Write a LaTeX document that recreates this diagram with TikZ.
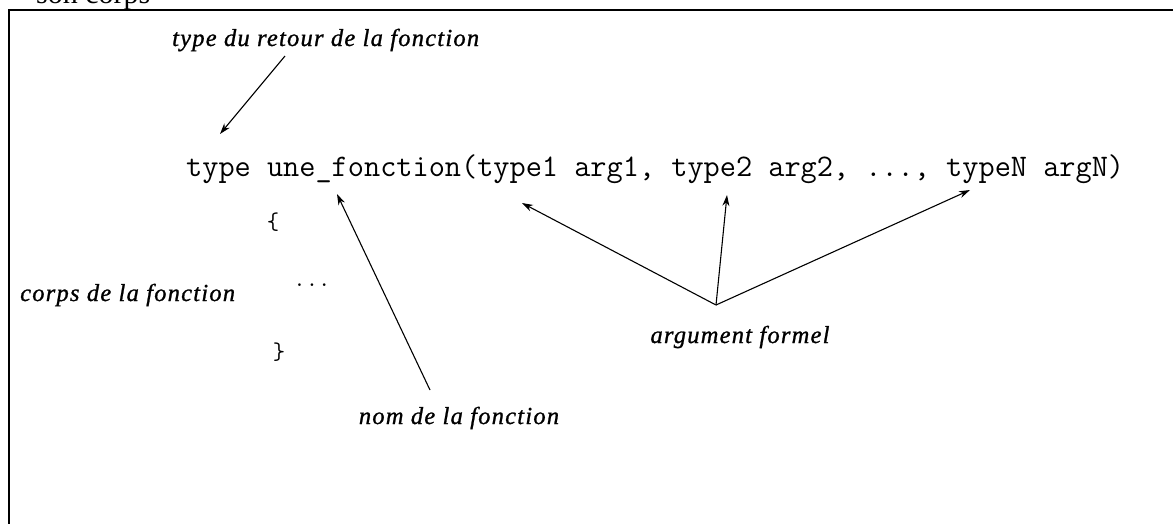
\documentclass[tikz,border=0pt]{standalone}
\usepackage{fontspec}
\setmainfont{Liberation Serif}
\newfontfamily\labfont{Liberation Serif}[LetterSpace=5,FakeBold=1]
\usetikzlibrary{arrows.meta}
\begin{document}
\begin{tikzpicture}[x=1pt,y=-1pt,
  lab/.style={font=\labfont\fontsize{24.5}{28}\selectfont\itshape, inner sep=0pt},
  code/.style={font=\ttfamily\fontsize{31.4}{34}\selectfont, inner sep=0pt},
  small code/.style={font=\ttfamily\fontsize{24}{28}\selectfont, inner sep=0pt},
  arr/.style={-{Stealth[length=11pt,width=7pt]}, line width=1.1pt},
  frame/.style={line width=2.5pt}]
\useasboundingbox (0,0) rectangle (1173,523);
\clip (0,0) rectangle (1173,523);
% clipped caption above the frame
\node[font=\fontsize{30}{34}\selectfont, anchor=base west, inner sep=0pt] (sc) at (36,3) {son corps};
% frame
\coordinate (fbl) at (9,540);
\coordinate (ftl) at (9,10);
\coordinate (ftr) at (1190,10);
\draw[frame] (fbl) -- (ftl) -- (ftr);
% labels
\node[lab, anchor=base west] (ret) at (172,46) {type du retour de la fonction};
\node[code, anchor=base west] (sig) at (186,176) {type une\_fonction(type1 arg1, type2 arg2, ..., typeN argN)};
\node[small code] (ob) at (273,222) {\{};
\node[small code] (dots) at (312,285) {...};
\node[small code] (cb) at (279,352) {\}};
\node[lab, anchor=west] (corps) at (20,295) {corps de la fonction};
\node[lab] (nom) at (459,418) {nom de la fonction};
\node[lab] (arg) at (740,337) {argument formel};
% connector ends
\coordinate (r0) at (285,56);
\coordinate (r1) at (220,134);
\coordinate (n0) at (430,390);
\coordinate (n1) at (337,194);
\coordinate (conv) at (716,305);
\coordinate (t1) at (522,203);
\coordinate (t2) at (727,195);
\coordinate (tN) at (970,190);
% connectors
\draw[arr] (r0) -- (r1);
\draw[arr] (n0) -- (n1);
\draw[arr] (conv) -- (t1);
\draw[arr] (conv) -- (t2);
\draw[arr] (conv) -- (tN);
\end{tikzpicture}
\end{document}
